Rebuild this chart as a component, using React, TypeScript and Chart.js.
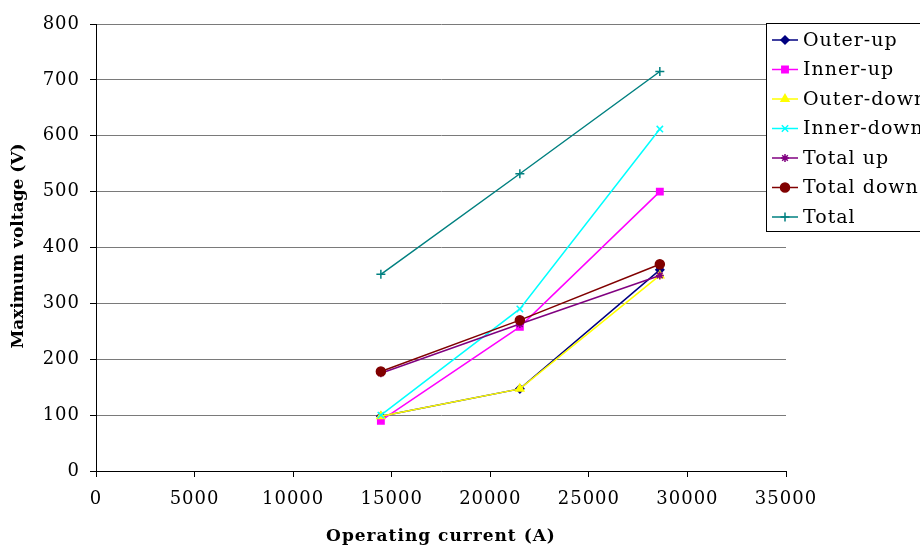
import React, { useEffect, useRef } from "react";
import { Chart, registerables } from "chart.js";
import { drawPoint } from "chart.js/helpers";

Chart.register(...registerables);

const currents = [14450, 21500, 28600];
const outerUp = [98, 147, 360];
const innerUp = [90, 258, 500];
const outerDown = [98, 147, 350];
const innerDown = [100, 290, 612];
const totalUp = [175, 263, 350];
const totalDown = [178, 270, 370];
const total = [352, 532, 715];

const seriesNames = ["Outer-up", "Inner-up", "Outer-down", "Inner-down", "Total up", "Total down", "Total"];
const seriesValues = [outerUp, innerUp, outerDown, innerDown, totalUp, totalDown, total];
const seriesColors = ["#000080", "#FF00FF", "#FFFF00", "#00FFFF", "#800080", "#800000", "#008080"];
const seriesMarkers = ["rectRot", "rect", "triangle", "crossRot", "star", "circle", "cross"];
const seriesRadius = [4, 4.5, 4.5, 4.5, 4, 4.5, 4.5];

const xTitle = "Operating current (A)";
const yTitle = "Maximum voltage (V)";
const FONT = "'DejaVu Serif', serif";

const textPlugin = {
  id: "customText",
  beforeDraw(chart: any) {
    chart.ctx.letterSpacing = "1px";
  },
  afterDraw(chart: any) {
    const ctx = chart.ctx;
    ctx.save();
    // axis titles
    ctx.fillStyle = "#000";
    ctx.textAlign = "center";
    ctx.textBaseline = "middle";
    ctx.letterSpacing = "1px";
    ctx.font = "bold 17px " + FONT;
    ctx.fillText(xTitle, 441, 537);
    ctx.letterSpacing = "0px";
    ctx.save();
    ctx.translate(19, 246);
    ctx.rotate(-Math.PI / 2);
    ctx.fillText(yTitle, 0, 0);
    ctx.restore();

    // legend
    const x0 = 766, y0 = 23, h = 208;
    ctx.fillStyle = "#ffffff";
    ctx.fillRect(x0, y0, 200, h);
    ctx.strokeStyle = "#000000";
    ctx.lineWidth = 1;
    ctx.strokeRect(x0 + 0.5, y0 + 0.5, 200, h);
    ctx.letterSpacing = "1px";
    ctx.font = "19px " + FONT;
    ctx.textBaseline = "middle";
    ctx.textAlign = "left";
    seriesNames.forEach((name, i) => {
      const cy = 40 + i * 29.5;
      ctx.strokeStyle = seriesColors[i];
      ctx.lineWidth = 1.5;
      ctx.beginPath();
      ctx.moveTo(772, cy);
      ctx.lineTo(798, cy);
      ctx.stroke();
      ctx.fillStyle = seriesColors[i];
      drawPoint(ctx, { pointStyle: seriesMarkers[i], radius: seriesRadius[i], borderWidth: 1.5, rotation: 0 } as any, 785, cy);
      ctx.fillStyle = "#000000";
      ctx.fillText(name, 803, cy + 1);
    });
    ctx.restore();
  },
};

export default function App() {
  const ref = useRef<HTMLCanvasElement>(null);
  useEffect(() => {
    document.body.style.margin = "0";
    const n = seriesNames.length;
    const datasets = seriesNames.map((name, i) => ({
      label: name,
      data: currents.map((c, j) => ({ x: c, y: seriesValues[i][j] })),
      borderColor: seriesColors[i],
      backgroundColor: seriesColors[i],
      pointBackgroundColor: seriesColors[i],
      pointBorderColor: seriesColors[i],
      pointStyle: seriesMarkers[i] as any,
      pointRadius: seriesRadius[i],
      pointBorderWidth: 1.5,
      borderWidth: 1.5,
      showLine: true,
      fill: false,
      order: n - i,
    }));
    const chart = new Chart(ref.current!, {
      type: "scatter",
      data: { datasets },
      options: {
        animation: false,
        responsive: false,
        layout: { padding: { left: 0, right: 134, top: 24, bottom: 0 } },
        plugins: { legend: { display: false }, tooltip: { enabled: false } },
        scales: {
          x: {
            type: "linear",
            min: 0,
            max: 35000,
            ticks: { stepSize: 5000, color: "#000", font: { family: FONT, size: 18 }, padding: 12, maxRotation: 0, callback: (v: any) => String(v) },
            grid: { drawOnChartArea: false, drawTicks: true, tickLength: 6, tickColor: "#000" },
            border: { color: "#000", width: 1 },
            title: { display: false },
            afterFit: (s: any) => { s.height = 77; },
          },
          y: {
            type: "linear",
            min: 0,
            max: 800,
            ticks: { stepSize: 100, color: "#000", font: { family: FONT, size: 18 }, padding: 10, callback: (v: any) => String(v) },
            grid: { color: "#7a7a7a", lineWidth: 1, drawTicks: true, tickLength: 6, tickColor: "#000" },
            border: { color: "#000", width: 1 },
            title: { display: false },
            afterFit: (s: any) => { s.width = 96; },
          },
        },
      } as any,
      plugins: [textPlugin],
    });
    return () => chart.destroy();
  }, []);
  return (
    <div style={{ position: "absolute", left: 0, top: 0, width: 920, height: 548, background: "#fff" }}>
      <canvas ref={ref} width={920} height={548} />
    </div>
  );
}
